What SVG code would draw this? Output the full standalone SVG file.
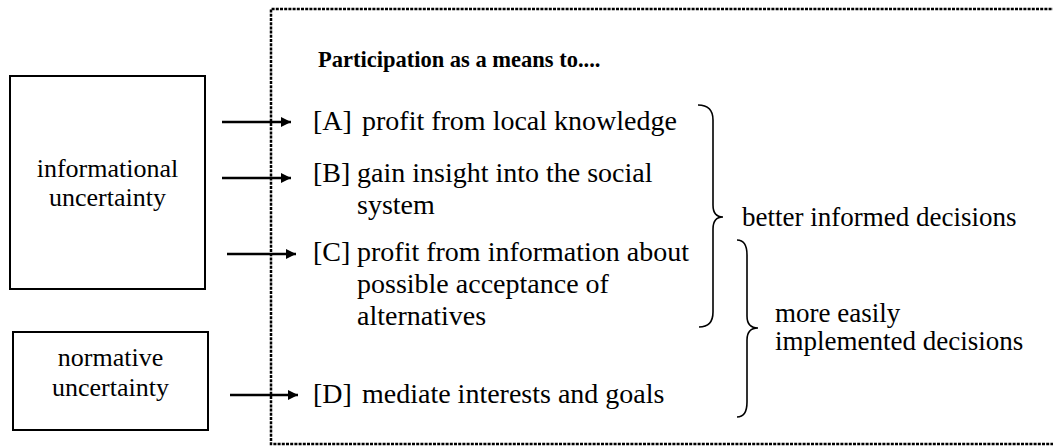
<svg xmlns="http://www.w3.org/2000/svg" width="1053" height="447" viewBox="0 0 1053 447">
  <style>
    text { font-family: "Liberation Serif", "Times New Roman", serif; fill: #000; }
    .title { font-size: 22.5px; font-weight: bold; }
    .src { font-size: 26px; text-anchor: middle; }
    .item { font-size: 28px; }
    .out { font-size: 27px; }
    .box { fill: none; stroke: #000; stroke-width: 2; }
    .frame { fill: none; stroke: #000; stroke-width: 2.5; stroke-dasharray: 3 1.2; }
    .brace { fill: none; stroke: #000; stroke-width: 1.6; }
    .arrow { stroke: #000; stroke-width: 2.5; fill: none; marker-end: url(#head); }
  </style>
  <defs>
    <marker id="head" viewBox="0 0 10 10" refX="10" refY="5" markerWidth="4" markerHeight="4" orient="auto" markerUnits="strokeWidth">
      <path d="M0,0 L10,5 L0,10 z" fill="#000"/>
    </marker>
  </defs>

  <!-- dotted frame around the list of purposes, open on the right -->
  <g id="frame">
    <path class="frame" d="M1060,9 L271,9 L271,444 L1060,444"/>
    <text class="title" x="318" y="67">Participation as a means to....</text>
  </g>

  <g id="informational">
    <rect class="box" x="10" y="76" width="195" height="213"/>
    <text class="src" x="107.5" y="177">informational</text>
    <text class="src" x="107.5" y="206">uncertainty</text>
  </g>

  <g id="normative">
    <rect class="box" x="13" y="332" width="195" height="98"/>
    <text class="src" x="110.5" y="366">normative</text>
    <text class="src" x="110.5" y="396">uncertainty</text>
  </g>

  <g id="itemA">
    <text class="item" x="313" y="130">[A]</text>
    <text class="item" x="362" y="130">profit from local knowledge</text>
  </g>
  <g id="itemB">
    <text class="item" x="313" y="182">[B]</text>
    <text class="item" x="357" y="182">gain insight into the social</text>
    <text class="item" x="357" y="214">system</text>
  </g>
  <g id="itemC">
    <text class="item" x="313" y="261">[C]</text>
    <text class="item" x="357" y="261">profit from information about</text>
    <text class="item" x="357" y="293">possible acceptance of</text>
    <text class="item" x="357" y="325">alternatives</text>
  </g>
  <g id="itemD">
    <text class="item" x="313" y="403">[D]</text>
    <text class="item" x="362" y="403">mediate interests and goals</text>
  </g>

  <g id="outcome-informed">
    <path class="brace" d="M698,105 Q713,105 713,120 L713,205 Q713,217 723,217 Q713,217 713,229 L713,312 Q713,327 699,327"/>
    <text class="out" x="742" y="226">better informed decisions</text>
  </g>
  <g id="outcome-implemented">
    <path class="brace" d="M737,240 Q747,240 747,255 L747,316 Q747,328 758,328 Q747,328 747,340 L747,402 Q747,417 737,417"/>
    <text class="out" x="775" y="322">more easily</text>
    <text class="out" x="775" y="350">implemented decisions</text>
  </g>

  <!-- arrows from the uncertainty boxes into the frame -->
  <g id="connectors">
    <line class="arrow" x1="222" y1="122" x2="291" y2="122"/>
    <line class="arrow" x1="222" y1="178" x2="291" y2="178"/>
    <line class="arrow" x1="227" y1="254" x2="296" y2="254"/>
    <line class="arrow" x1="230" y1="395" x2="298" y2="395"/>
  </g>
</svg>
